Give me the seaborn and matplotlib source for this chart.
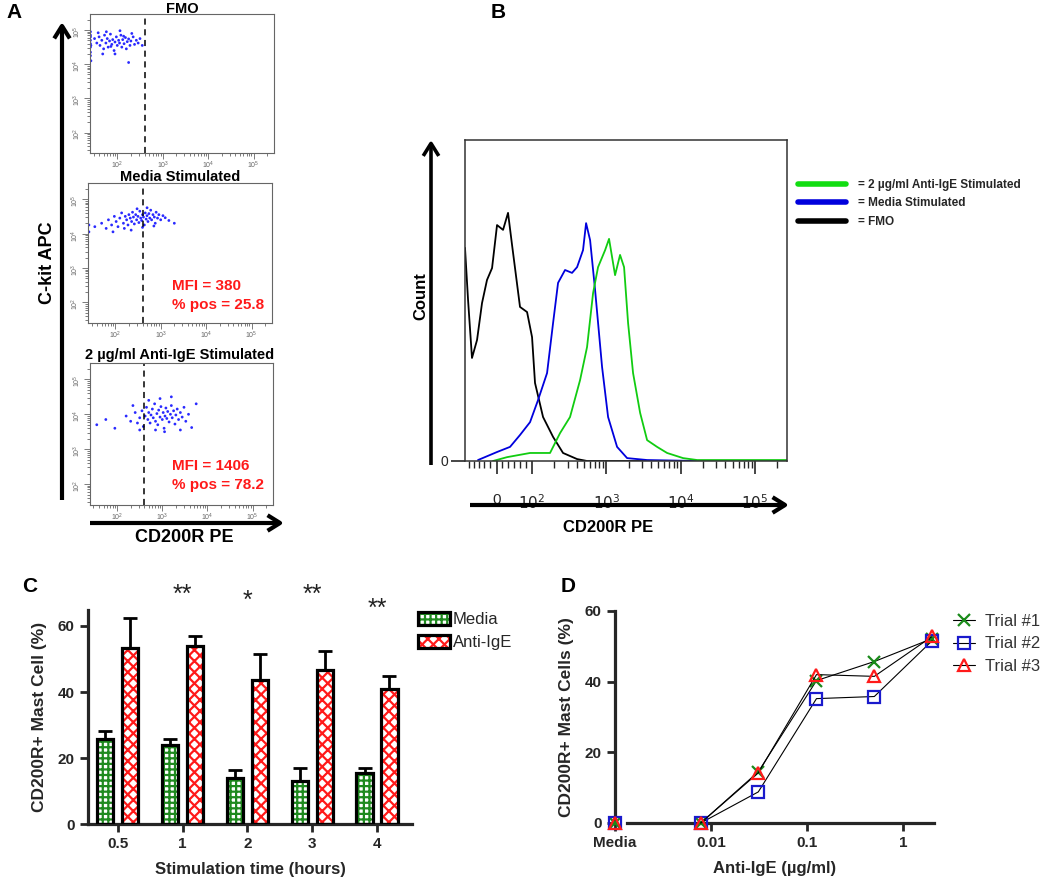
import numpy as np
import pandas as pd
import matplotlib
matplotlib.use("Agg")
import matplotlib.pyplot as plt
import seaborn as sns
from matplotlib.patches import FancyArrowPatch, Patch, Rectangle
from matplotlib.lines import Line2D
from matplotlib.ticker import FixedLocator, LogLocator, NullFormatter

# ---------- A: dot plots, log10(CD200R PE) / log10(C-kit APC) ----------
fmo_x = [1.41, 1.41, 1.41, 1.41, 1.41, 1.41, 1.41, 1.42, 1.41, 1.42,
         1.50, 1.55, 1.60, 1.62, 1.66, 1.70, 1.72, 1.75, 1.78, 1.80,
         1.83, 1.85, 1.88, 1.90, 1.93, 1.95, 1.98, 2.00, 2.03, 2.05,
         2.08, 2.10, 2.12, 2.15, 2.18, 2.20, 2.22, 2.25, 2.28, 2.30,
         2.35, 2.38, 2.42, 2.46, 2.50, 2.55, 1.68, 1.95, 2.25, 1.58,
         1.76, 2.06, 2.32, 1.86, 2.14]
fmo_y = [4.95, 4.80, 4.70, 4.60, 4.50, 4.35, 4.25, 4.10, 4.85, 4.55,
         4.75, 4.62, 4.80, 4.55, 4.70, 4.45, 4.85, 4.62, 4.75, 4.50,
         4.68, 4.88, 4.58, 4.72, 4.40, 4.65, 4.80, 4.55, 4.70, 4.62,
         4.85, 4.50, 4.72, 4.60, 4.78, 4.45, 4.66, 4.74, 4.55, 4.68,
         4.80, 4.58, 4.70, 4.62, 4.75, 4.55, 4.30, 4.30, 4.05, 4.92,
         4.95, 4.98, 4.90, 4.52, 4.82]

media_x = [1.42, 1.42, 1.55, 1.70, 1.80, 1.85, 1.92, 1.98, 2.02, 2.06,
           2.10, 2.14, 2.18, 2.22, 2.25, 2.28, 2.30, 2.33, 2.36, 2.38,
           2.40, 2.42, 2.45, 2.47, 2.50, 2.52, 2.54, 2.56, 2.58, 2.60,
           2.62, 2.64, 2.66, 2.68, 2.70, 2.72, 2.74, 2.76, 2.78, 2.80,
           2.83, 2.86, 2.88, 2.90, 2.93, 2.96, 3.00, 3.05, 3.10, 3.18,
           3.30, 2.48, 2.20, 2.70, 2.35, 1.95, 2.60, 2.85]
media_y = [4.25, 4.05, 4.20, 4.30, 4.15, 4.40, 4.25, 4.50, 4.35, 4.20,
           4.45, 4.60, 4.30, 4.50, 4.40, 4.25, 4.55, 4.45, 4.35, 4.62,
           4.48, 4.28, 4.55, 4.40, 4.50, 4.32, 4.65, 4.45, 4.38, 4.55,
           4.48, 4.25, 4.60, 4.42, 4.52, 4.35, 4.58, 4.45, 4.68, 4.40,
           4.55, 4.48, 4.30, 4.62, 4.45, 4.55, 4.40, 4.52, 4.46, 4.38,
           4.30, 4.72, 4.15, 4.75, 4.10, 4.05, 4.18, 4.22]

anti_x = [1.55, 1.75, 1.95, 2.20, 2.30, 2.40, 2.45, 2.50, 2.55, 2.58,
          2.62, 2.65, 2.68, 2.70, 2.73, 2.75, 2.78, 2.80, 2.83, 2.85,
          2.88, 2.90, 2.92, 2.95, 2.97, 3.00, 3.02, 3.04, 3.06, 3.08,
          3.10, 3.12, 3.15, 3.18, 3.20, 3.22, 3.25, 3.28, 3.30, 3.33,
          3.36, 3.40, 3.44, 3.48, 3.52, 3.58, 3.65, 3.75, 2.95, 3.20,
          2.70, 3.05, 2.50, 3.40, 2.35, 2.85]
anti_y = [3.70, 3.85, 3.60, 3.95, 3.80, 4.05, 3.75, 3.90, 4.10, 3.65,
          3.95, 4.20, 3.85, 4.05, 3.75, 3.98, 4.15, 3.90, 4.30, 3.80,
          4.02, 3.70, 4.12, 3.92, 4.22, 3.85, 4.05, 3.60, 3.95, 4.18,
          3.88, 4.08, 3.78, 4.00, 4.25, 3.90, 4.10, 3.72, 3.98, 4.15,
          3.85, 4.05, 3.92, 4.20, 3.80, 4.00, 3.62, 4.30, 4.45, 4.50,
          4.40, 3.50, 3.55, 3.55, 4.25, 3.55]

gate_log = 2.6

# ---------- B: histograms (x in decades on the display axis, y in % of max) ----------
fmo_hx = [1.098, 1.139, 1.192, 1.260, 1.327, 1.394, 1.462, 1.529, 1.610, 1.677,
          1.731, 1.838, 1.933, 2.000, 2.040, 2.148, 2.283, 2.417, 2.606, 2.740, 5.43]
fmo_hy = [66.4, 50.2, 32.1, 37.7, 49.2, 56.4, 60.1, 73.5, 72.0, 77.3,
          67.3, 48.0, 46.4, 38.6, 24.3, 13.7, 7.5, 2.5, 0.6, 0.0, 0.0]

media_hx = [1.273, 1.529, 1.704, 1.838, 1.973, 2.081, 2.202, 2.283, 2.350, 2.444,
            2.538, 2.606, 2.686, 2.727, 2.781, 2.848, 2.942, 3.023, 3.144, 3.279,
            3.548, 4.221, 5.43]
media_hy = [0.3, 2.8, 4.4, 8.1, 12.1, 19.0, 27.4, 43.0, 55.5, 59.5,
            58.6, 60.4, 65.7, 74.1, 68.8, 53.3, 29.3, 13.7, 4.4, 0.9,
            0.3, 0.0, 0.0]

anti_hx = [1.475, 1.664, 1.973, 2.242, 2.377, 2.511, 2.646, 2.740, 2.821, 2.888,
           2.983, 3.036, 3.117, 3.184, 3.238, 3.292, 3.359, 3.454, 3.548, 3.682,
           3.817, 4.032, 4.221, 5.43]
anti_hy = [0.0, 1.2, 2.5, 2.5, 8.7, 13.7, 25.2, 35.5, 52.3, 60.4,
           65.7, 69.2, 57.9, 64.2, 60.4, 43.0, 27.4, 15.0, 6.5, 4.4,
           2.5, 0.9, 0.3, 0.3]

hist_ticks = [1.53, 2, 3, 4, 5]
hist_ticklabels = ["0", "$10^2$", "$10^3$", "$10^4$", "$10^5$"]

# ---------- C: bars ----------
times = ["0.5", "1", "2", "3", "4"]
media_pct = [25.8, 23.9, 13.9, 13.0, 15.5]
media_err = [2.4, 1.9, 2.5, 4.0, 1.5]
anti_pct = [53.3, 54.0, 43.6, 46.7, 40.9]
anti_err = [9.1, 3.0, 7.9, 5.7, 3.9]
stars = ["", "**", "*", "**", "**"]
star_y = [0, 69.5, 67.5, 69.5, 65.3]

# ---------- D: dose response ----------
conc = [0.0078, 0.031, 0.125, 0.5, 2.0]
media_pos = 0.001
trial1 = [0, 14.5, 40.3, 45.7, 52.2]
trial2 = [0, 8.8, 35.2, 35.8, 51.6]
trial3 = [0, 14.2, 42.0, 41.5, 52.8]
media_trials = [0, 0, 0]

W, H = 1050, 877
sns.set_style("ticks")
plt.rcParams["font.family"] = ["Liberation Sans", "DejaVu Sans"]
plt.rcParams["hatch.linewidth"] = 1.6
plt.rcParams["axes.unicode_minus"] = False

fig = plt.figure(figsize=(W / 100, H / 100), dpi=100)


def fx(px):
    return px / W


def fy(py):
    return 1 - py / H


def box(l, t, r, b):
    return [fx(l), fy(b), (r - l) / W, (b - t) / H]


def arrow(p0, p1, lw=3):
    a = FancyArrowPatch((fx(p0[0]), fy(p0[1])), (fx(p1[0]), fy(p1[1])),
                        transform=fig.transFigure,
                        arrowstyle="->,head_length=0.45,head_width=0.28",
                        mutation_scale=20, lw=lw, color="black",
                        shrinkA=0, shrinkB=0, capstyle="butt")
    fig.add_artist(a)


# ---------------- Panel A ----------------
def dot_panel(ax, lx, ly):
    ax.set_xscale("log")
    ax.set_yscale("log")
    sns.scatterplot(x=10 ** np.array(lx), y=10 ** np.array(ly), ax=ax, s=4,
                    color="#2a2aff", edgecolor="none", linewidth=0, legend=False)
    ax.set_xlim(10 ** 1.4, 10 ** 5.45)
    ax.set_ylim(10 ** 1.4, 10 ** 5.47)
    ax.axvline(10 ** gate_log, color="black", ls=(0, (4, 3)), lw=1.1)
    for s in ax.spines.values():
        s.set_color("#666666")
        s.set_linewidth(0.8)
    for axis in (ax.xaxis, ax.yaxis):
        axis.set_major_locator(FixedLocator([1e2, 1e3, 1e4, 1e5]))
        axis.set_minor_locator(LogLocator(base=10, subs=np.arange(2, 10)))
        axis.set_minor_formatter(NullFormatter())
    ax.tick_params(which="both", direction="out", colors="#666666", labelsize=5, width=0.6)
    ax.tick_params(which="major", length=4, pad=1)
    ax.tick_params(which="minor", length=2.5)
    ax.tick_params(axis="y", labelrotation=90)
    ax.set_xlabel("")
    ax.set_ylabel("")


ax_a1 = fig.add_axes(box(90, 14, 274, 153))
ax_a2 = fig.add_axes(box(88, 183, 272, 323))
ax_a3 = fig.add_axes(box(90, 363, 273, 505))
dot_panel(ax_a1, fmo_x, fmo_y)
dot_panel(ax_a2, media_x, media_y)
dot_panel(ax_a3, anti_x, anti_y)

bold = dict(fontweight="bold", color="black")
fig.text(fx(182), fy(9), "FMO", ha="center", va="center", fontsize=10.5, **bold)
fig.text(fx(180), fy(177), "Media Stimulated", ha="center", va="center", fontsize=10.5, **bold)
fig.text(fx(180), fy(355), "2 µg/ml Anti-IgE Stimulated", ha="center", va="center", fontsize=10.5, **bold)
red = dict(fontweight="bold", color="#ff1a1a", fontsize=11, ha="left", va="center")
fig.text(fx(172), fy(286), "MFI = 380", **red)
fig.text(fx(172), fy(305), "% pos = 25.8", **red)
fig.text(fx(172), fy(466), "MFI = 1406", **red)
fig.text(fx(172), fy(485), "% pos = 78.2", **red)
fig.text(fx(47), fy(263), "C-kit APC", rotation=90, ha="center", va="center", fontsize=13, **bold)
fig.text(fx(184), fy(537), "CD200R PE", ha="center", va="center", fontsize=13, **bold)
arrow((62, 500), (62, 22))
arrow((90, 523), (284, 523))

# ---------------- Panel B ----------------
ax_b = fig.add_axes(box(465, 140, 787, 461))
sns.lineplot(x=fmo_hx, y=fmo_hy, ax=ax_b, color="black", lw=1.3, sort=False, estimator=None)
sns.lineplot(x=media_hx, y=media_hy, ax=ax_b, color="#0000dd", lw=1.3, sort=False, estimator=None)
sns.lineplot(x=anti_hx, y=anti_hy, ax=ax_b, color="#11cc11", lw=1.3, sort=False, estimator=None)
ax_b.set_xlim(1.098, 5.43)
ax_b.set_ylim(0, 100)
ax_b.set_xticks(hist_ticks, hist_ticklabels)
minor_pos = [1.15, 1.22, 1.29, 1.36, 1.43, 1.6, 1.68, 1.76, 1.84, 1.92]
for n in (2, 3, 4, 5):
    minor_pos += [n + np.log10(k) for k in range(2, 10) if n + np.log10(k) < 5.43]
ax_b.set_xticks(minor_pos, minor=True)
ax_b.set_yticks([0], ["0"])
ax_b.tick_params(axis="x", which="major", length=9, width=1.2, pad=14, labelsize=11)
ax_b.tick_params(axis="x", which="minor", length=5, width=1)
ax_b.tick_params(axis="y", length=10, width=1.2, labelsize=10, pad=2)
for s in ax_b.spines.values():
    s.set_color("#333333")
    s.set_linewidth(1.1)
ax_b.set_xlabel("")
ax_b.set_ylabel("")
fig.text(fx(421), fy(296), "Count", rotation=90, ha="center", va="center", fontsize=12, **bold)
fig.text(fx(608), fy(527), "CD200R PE", ha="center", va="center", fontsize=12, **bold)
arrow((431, 465), (431, 140), lw=2.6)
arrow((470, 505), (789, 505), lw=3)

leg_b = [Line2D([0], [0], color="#11dd11", lw=4),
         Line2D([0], [0], color="#0000dd", lw=4),
         Line2D([0], [0], color="black", lw=4)]
fig.legend(leg_b, ["= 2 µg/ml Anti-IgE Stimulated", "= Media Stimulated", "= FMO"],
           loc="upper left", bbox_to_anchor=(fx(798), fy(179)), frameon=False,
           borderpad=0, borderaxespad=0, handlelength=4.1, handletextpad=1.0,
           labelspacing=0.55, prop=dict(size=8.5, weight="bold"))

# ---------------- Panel C ----------------
ax_c = fig.add_axes(box(88, 609.5, 412, 824))
df_c = pd.DataFrame({"time": times * 2,
                     "pct": media_pct + anti_pct,
                     "group": ["Media"] * 5 + ["Anti-IgE"] * 5})
sns.barplot(data=df_c, x="time", y="pct", hue="group", order=times,
            hue_order=["Media", "Anti-IgE"],
            palette={"Media": "white", "Anti-IgE": "white"},
            width=0.77, gap=0.35, errorbar=None, legend=False, ax=ax_c)
styles = [("white", "#1f8a1f", "+++"), ("white", "#ff1a1a", "xxx")]
for cont, vals, errs, (fc, hc, hatch) in zip(ax_c.containers, [media_pct, anti_pct],
                                              [media_err, anti_err], styles):
    xs = []
    for p in cont:
        p.set_facecolor(fc)
        p.set_edgecolor(hc)
        p.set_hatch(hatch)
        p.set_linewidth(0)
        ax_c.add_patch(Rectangle(p.get_xy(), p.get_width(), p.get_height(), fill=False,
                                 edgecolor="black", lw=2.3, zorder=3))
        xs.append(p.get_x() + p.get_width() / 2)
    ax_c.errorbar(xs, vals, yerr=[np.zeros(len(vals)), errs], fmt="none", ecolor="black",
                  elinewidth=2, capsize=5, capthick=2, zorder=2.5)
for i, s in enumerate(stars):
    if s:
        ax_c.text(i, star_y[i], s, ha="center", va="center", fontsize=18, color="#222222")
ax_c.set_xlim(-0.46, 4.54)
ax_c.set_ylim(0, 65)
ax_c.set_yticks([0, 20, 40, 60])
sns.despine(ax=ax_c)
for s in ("left", "bottom"):
    ax_c.spines[s].set_linewidth(2.3)
ax_c.tick_params(width=2, length=6, labelsize=11)
for lab in ax_c.get_xticklabels() + ax_c.get_yticklabels():
    lab.set_fontweight("bold")
ax_c.set_xlabel("Stimulation time (hours)", fontsize=12, fontweight="bold", labelpad=8)
ax_c.set_ylabel("CD200R+ Mast Cell (%)", fontsize=12.5, fontweight="bold", labelpad=8)

leg_c = [(Patch(facecolor="white", edgecolor="#1f8a1f", hatch="+++", lw=0),
          Patch(facecolor="none", edgecolor="black", lw=2.3)),
         (Patch(facecolor="white", edgecolor="#ff1a1a", hatch="xxx", lw=0),
          Patch(facecolor="none", edgecolor="black", lw=2.3))]
fig.legend(leg_c, ["Media", "Anti-IgE"], loc="upper left",
           bbox_to_anchor=(fx(418), fy(612)), frameon=False, borderpad=0,
           borderaxespad=0, handlelength=1.9, handleheight=0.85, handletextpad=0.2,
           labelspacing=0.45, prop=dict(size=12))

# ---------------- Panel D ----------------
ax_d = fig.add_axes(box(615, 611, 934, 823))
ax_d.set_xscale("log")
trial_style = [(trial1, "#1a8a1a", "x", "Trial #1"),
               (trial2, "#1a1acc", "s", "Trial #2"),
               (trial3, "#ff1a1a", "^", "Trial #3")]
for vals, col, mk, name in trial_style:
    sns.lineplot(x=conc, y=vals, ax=ax_d, color="black", lw=0.8, sort=False, estimator=None,
                 marker=mk, markersize=8, markerfacecolor="none", markeredgecolor=col,
                 markeredgewidth=1.6, clip_on=False, zorder=3)
for val, (_, col, mk, _) in zip(media_trials, trial_style):
    sns.lineplot(x=[media_pos], y=[val], ax=ax_d, linestyle="none", marker=mk, markersize=8,
                 markerfacecolor="none", markeredgecolor=col, markeredgewidth=1.6,
                 clip_on=False, zorder=3, estimator=None)
ax_d.set_xlim(1e-3, 10 ** 0.32)
ax_d.set_ylim(0, 60)
ax_d.set_yticks([0, 20, 40, 60])
ax_d.xaxis.set_major_locator(FixedLocator([media_pos, 0.01, 0.1, 1]))
ax_d.set_xticklabels(["Media", "0.01", "0.1", "1"])
ax_d.xaxis.set_minor_locator(FixedLocator([]))
sns.despine(ax=ax_d)
ax_d.spines["bottom"].set_bounds(10 ** -2.87, 10 ** 0.32)
for s in ("left", "bottom"):
    ax_d.spines[s].set_linewidth(2.3)
ax_d.tick_params(width=2, length=6, labelsize=11)
for lab in ax_d.get_xticklabels() + ax_d.get_yticklabels():
    lab.set_fontweight("bold")
ax_d.set_xlabel("Anti-IgE (µg/ml)", fontsize=12, fontweight="bold", labelpad=8)
ax_d.set_ylabel("CD200R+ Mast Cells (%)", fontsize=12.5, fontweight="bold", labelpad=8)

leg_d = [Line2D([0], [0], color="black", lw=0.8, marker=mk, markersize=8,
                markerfacecolor="none", markeredgecolor=col, markeredgewidth=1.6)
         for _, col, mk, _ in trial_style]
fig.legend(leg_d, [t[3] for t in trial_style], loc="upper left",
           bbox_to_anchor=(fx(953), fy(614)), frameon=False, borderpad=0,
           borderaxespad=0, handlelength=1.3, handletextpad=0.6, labelspacing=0.45,
           labelcolor="#333333", prop=dict(size=12))

# panel letters
for letter, px, py in [("A", 14, 13), ("B", 498, 13), ("C", 30, 586), ("D", 568, 587)]:
    fig.text(fx(px), fy(py), letter, ha="center", va="center", fontsize=15, **bold)

fig.savefig("out.png", dpi=100)
